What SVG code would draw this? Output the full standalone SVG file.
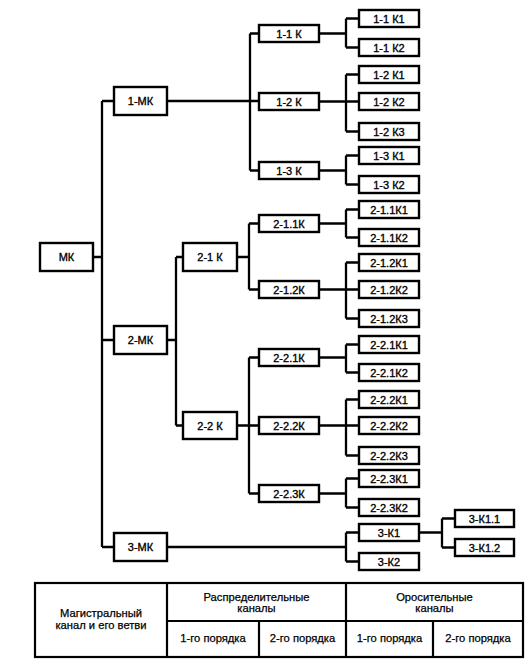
<svg xmlns="http://www.w3.org/2000/svg" width="532" height="667" viewBox="0 0 532 667">
<style>
rect.b{fill:#fff;stroke:#000;stroke-width:2.4}
text{font-family:"Liberation Sans",Arial,sans-serif;fill:#000;text-anchor:middle;stroke:#000;stroke-width:0.35}
text.n{font-size:11px}
text.t{font-size:11.2px;stroke-width:0.25}
#connectors path{fill:none;stroke:#000;stroke-width:2.3}
#table line,#table rect{fill:none;stroke:#000;stroke-width:2.2}
</style>
<rect width="532" height="667" fill="#fff"/>
<g id="connectors">
<path d="M93,257H102M102,101V547M102,101H114M102,340H114M102,547H114"/>
<path d="M167,101H259M250,33.5V170.5M250,33.5H259M250,170.5H259"/>
<path d="M319,33.5H346M346,18.5V47.5M346,18.5H359M346,47.5H359"/>
<path d="M319,101.5H359M346,74.5V131.5M346,74.5H359M346,131.5H359"/>
<path d="M319,170.5H346M346,155.5V184.5M346,155.5H359M346,184.5H359"/>
<path d="M167,340H176M176,257V425.5M176,257H183M176,425.5H183"/>
<path d="M237,257H249M249,223.5V289.5M249,223.5H259M249,289.5H259"/>
<path d="M237,425.5H259M249,357.5V493.5M249,357.5H259M249,493.5H259"/>
<path d="M319,223.5H346M346,209.5V237.5M346,209.5H359M346,237.5H359"/>
<path d="M319,289.5H359M346,262.5V318.5M346,262.5H359M346,318.5H359"/>
<path d="M319,357.5H346M346,344.5V372.5M346,344.5H359M346,372.5H359"/>
<path d="M319,425.5H359M346,399.5V455.5M346,399.5H359M346,455.5H359"/>
<path d="M319,493.5H346M346,478.5V507.5M346,478.5H359M346,507.5H359"/>
<path d="M167,547H346M346,532.5V561.5M346,532.5H359M346,561.5H359"/>
<path d="M419,532.5H442M442,518.5V547.5M442,518.5H455M442,547.5H455"/>
</g>
<g id="mk"><rect class="b" x="40" y="243" width="53" height="28"/><text class="n" x="66.5" y="261">МК</text></g>
<g id="mk1"><rect class="b" x="114" y="87" width="53" height="28"/><text class="n" x="140.5" y="105">1-МК</text></g>
<g id="mk2"><rect class="b" x="114" y="326" width="53" height="28"/><text class="n" x="140.5" y="344">2-МК</text></g>
<g id="mk3"><rect class="b" x="114" y="533" width="53" height="28"/><text class="n" x="140.5" y="551">3-МК</text></g>
<g id="k2-1"><rect class="b" x="183" y="243" width="54" height="28"/><text class="n" x="210" y="261">2-1 К</text></g>
<g id="k2-2"><rect class="b" x="183" y="412" width="54" height="27"/><text class="n" x="210" y="429.5">2-2 К</text></g>
<g id="k1-1"><rect class="b" x="259" y="25" width="60" height="17"/><text class="n" x="289" y="37.5">1-1 К</text></g>
<g id="k1-2"><rect class="b" x="259" y="93" width="60" height="17"/><text class="n" x="289" y="105.5">1-2 К</text></g>
<g id="k1-3"><rect class="b" x="259" y="162" width="60" height="17"/><text class="n" x="289" y="174.5">1-3 К</text></g>
<g id="k2-1.1"><rect class="b" x="259" y="215" width="60" height="17"/><text class="n" x="289" y="227.5">2-1.1К</text></g>
<g id="k2-1.2"><rect class="b" x="259" y="281" width="60" height="17"/><text class="n" x="289" y="293.5">2-1.2К</text></g>
<g id="k2-2.1"><rect class="b" x="259" y="349" width="60" height="17"/><text class="n" x="289" y="361.5">2-2.1К</text></g>
<g id="k2-2.2"><rect class="b" x="259" y="417" width="60" height="17"/><text class="n" x="289" y="429.5">2-2.2К</text></g>
<g id="k2-2.3"><rect class="b" x="259" y="485" width="60" height="17"/><text class="n" x="289" y="497.5">2-2.3К</text></g>
<g id="l1-1-1"><rect class="b" x="359" y="10" width="60" height="17"/><text class="n" x="389" y="22.5">1-1 К1</text></g>
<g id="l1-1-2"><rect class="b" x="359" y="39" width="60" height="17"/><text class="n" x="389" y="51.5">1-1 К2</text></g>
<g id="l1-2-1"><rect class="b" x="359" y="66" width="60" height="17"/><text class="n" x="389" y="78.5">1-2 К1</text></g>
<g id="l1-2-2"><rect class="b" x="359" y="93" width="60" height="17"/><text class="n" x="389" y="105.5">1-2 К2</text></g>
<g id="l1-2-3"><rect class="b" x="359" y="123" width="60" height="17"/><text class="n" x="389" y="135.5">1-2 К3</text></g>
<g id="l1-3-1"><rect class="b" x="359" y="147" width="60" height="17"/><text class="n" x="389" y="159.5">1-3 К1</text></g>
<g id="l1-3-2"><rect class="b" x="359" y="176" width="60" height="17"/><text class="n" x="389" y="188.5">1-3 К2</text></g>
<g id="l2-1.1-1"><rect class="b" x="359" y="201" width="60" height="17"/><text class="n" x="389" y="213.5">2-1.1К1</text></g>
<g id="l2-1.1-2"><rect class="b" x="359" y="229" width="60" height="17"/><text class="n" x="389" y="241.5">2-1.1К2</text></g>
<g id="l2-1.2-1"><rect class="b" x="359" y="254" width="60" height="17"/><text class="n" x="389" y="266.5">2-1.2К1</text></g>
<g id="l2-1.2-2"><rect class="b" x="359" y="281" width="60" height="17"/><text class="n" x="389" y="293.5">2-1.2К2</text></g>
<g id="l2-1.2-3"><rect class="b" x="359" y="310" width="60" height="17"/><text class="n" x="389" y="322.5">2-1.2К3</text></g>
<g id="l2-2.1-1"><rect class="b" x="359" y="336" width="60" height="17"/><text class="n" x="389" y="348.5">2-2.1К1</text></g>
<g id="l2-2.1-2"><rect class="b" x="359" y="364" width="60" height="17"/><text class="n" x="389" y="376.5">2-2.1К2</text></g>
<g id="l2-2.2-1"><rect class="b" x="359" y="391" width="60" height="17"/><text class="n" x="389" y="403.5">2-2.2К1</text></g>
<g id="l2-2.2-2"><rect class="b" x="359" y="417" width="60" height="17"/><text class="n" x="389" y="429.5">2-2.2К2</text></g>
<g id="l2-2.2-3"><rect class="b" x="359" y="447" width="60" height="17"/><text class="n" x="389" y="459.5">2-2.2К3</text></g>
<g id="l2-2.3-1"><rect class="b" x="359" y="470" width="60" height="17"/><text class="n" x="389" y="482.5">2-2.3К1</text></g>
<g id="l2-2.3-2"><rect class="b" x="359" y="499" width="60" height="17"/><text class="n" x="389" y="511.5">2-2.3К2</text></g>
<g id="l3-1"><rect class="b" x="359" y="524" width="60" height="17"/><text class="n" x="389" y="536.5">3-К1</text></g>
<g id="l3-2"><rect class="b" x="359" y="553" width="60" height="17"/><text class="n" x="389" y="565.5">3-К2</text></g>
<g id="l3-1.1"><rect class="b" x="455" y="510" width="59" height="17"/><text class="n" x="484.5" y="522.5">3-К1.1</text></g>
<g id="l3-1.2"><rect class="b" x="455" y="539" width="59" height="17"/><text class="n" x="484.5" y="551.5">3-К1.2</text></g>
<g id="table">
<rect x="35" y="583" width="488" height="74"/>
<line x1="167" y1="583" x2="167" y2="657"/>
<line x1="346" y1="583" x2="346" y2="657"/>
<line x1="167" y1="621" x2="523" y2="621"/>
<line x1="259" y1="621" x2="259" y2="657"/>
<line x1="433" y1="621" x2="433" y2="657"/>
<text class="t" x="101" y="617">Магистральный</text>
<text class="t" x="101" y="629">канал и его ветви</text>
<text class="t" x="256.5" y="601">Распределительные</text>
<text class="t" x="256.5" y="612">каналы</text>
<text class="t" x="434.5" y="601">Оросительные</text>
<text class="t" x="434.5" y="612">каналы</text>
<text class="t" x="213" y="642">1-го порядка</text>
<text class="t" x="302.5" y="642">2-го порядка</text>
<text class="t" x="389.5" y="642">1-го порядка</text>
<text class="t" x="478" y="642">2-го порядка</text>
</g>
</svg>
